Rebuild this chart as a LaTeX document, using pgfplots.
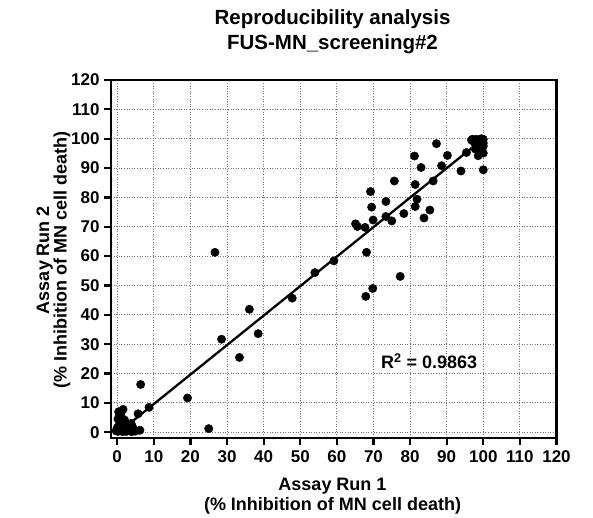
\documentclass[border=0pt]{standalone}
\usepackage{fontspec}
\setmainfont{Liberation Sans}
\usepackage{pgfplots}
\pgfplotsset{compat=1.18}

\begin{document}
\begin{tikzpicture}[x=1pt,y=1pt]
\path (0,0) rectangle (593,516);
\begin{axis}[
  at={(111pt,78.3pt)}, anchor=south west,
  scale only axis, width=445.5pt, height=357.7pt,
  xmin=-1.7, xmax=120, ymin=-1.84, ymax=120,
  xtick={0,10,...,120}, ytick={0,10,...,120},
  xtick pos=bottom, ytick pos=left,
  tick align=outside, major tick length=7pt,
  tick style={black, line width=2.2pt},
  axis line style={black, line width=2.2pt},
  grid=major,
  major grid style={black!55, line width=1pt, dash pattern=on 1pt off 1.6pt},
  /pgf/number format/assume math mode=true,
  ticklabel style={font=\bfseries\fontsize{17}{17}\selectfont},
  xticklabel style={yshift=-2pt},
  yticklabel style={xshift=-1pt},
  clip=false,
]
  % regression line
  \addplot[black, line width=2.3pt, no marks] coordinates {(3.5,3.1) (96.8,96.8)};

  % compounds
  \addplot[only marks, mark=*, mark size=4.2pt, black] coordinates {
    (0.2,0.3) (0.5,1.0) (1.0,0.5) (1.5,0.2) (2.0,0.8) (2.5,0.3) (3.0,1.2)
    (3.5,0.5) (4.0,0.2) (4.5,0.9) (5.0,0.4) (6.2,0.7) (0.3,2.0) (0.8,3.0)
    (1.2,2.2) (1.8,3.5) (2.3,2.0) (2.8,2.8) (3.3,1.8) (0.2,4.5) (0.6,5.5)
    (1.2,5.0) (0.4,7.0) (1.6,7.8) (1.0,6.5) (2.0,4.2) (3.8,3.0) (0.0,1.5)
    (-0.3,0.5) (1.5,1.5) (2.2,1.2) (4.2,1.8) (5.7,6.3) (8.7,8.5) (6.4,16.3)
    (19.2,11.7) (25.0,1.25) (26.7,61.3) (28.5,31.7) (33.4,25.5) (36.1,41.9)
    (38.5,33.6) (47.8,45.7) (54.0,54.4) (59.2,58.4)
    (65.1,71.0) (65.6,70.1) (67.7,69.8) (68.1,61.3) (67.9,46.3) (69.8,49.0)
    (69.2,82.0) (69.5,76.7) (69.9,72.3) (73.4,78.6) (73.4,73.5) (75.0,72.0)
    (75.7,85.6) (77.3,53.1) (78.3,74.5) (81.2,94.1) (81.4,84.4) (81.9,79.4)
    (81.4,76.9) (83.0,90.2) (83.8,73.0) (85.4,75.7) (86.3,85.6) (87.2,98.3)
    (88.6,90.8) (90.2,94.3) (93.9,89.0) (95.4,95.3) (100.0,89.4)
    (97.0,99.8) (98.0,99.8) (99.0,99.8) (100.0,99.8) (97.5,98.8) (98.5,99.0)
    (99.5,99.0) (100.0,98.5) (98.0,97.5) (99.0,97.0) (100.0,97.5) (98.6,94.2)
    (100.0,95.1) (99.2,96.0) (97.8,96.5) (99.5,100.0) (96.8,99.5)
  };

  \node[font=\bfseries\fontsize{18}{18}\selectfont, anchor=base]
    at (axis cs:85.2,21.8) {R\textsuperscript{2} = 0.9863};
\end{axis}

% title
\node[anchor=base, font=\bfseries\fontsize{20.5}{20.5}\selectfont] at (332.5,491) {Reproducibility analysis};
\node[anchor=base, font=\bfseries\fontsize{20.5}{20.5}\selectfont] at (332.5,466) {FUS-MN\_screening\#2};

% x label
\node[anchor=base, font=\bfseries\fontsize{18}{18}\selectfont] at (332.5,25) {Assay Run 1};
\node[anchor=base, font=\bfseries\fontsize{18}{18}\selectfont] at (332.5,5.3) {(\% Inhibition of MN cell death)};

% y label
\node[anchor=base, rotate=90, font=\bfseries\fontsize{18}{18}\selectfont] at (49,256) {Assay Run 2};
\node[anchor=base, rotate=90, font=\bfseries\fontsize{18}{18}\selectfont] at (66.5,256) {(\% Inhibition of MN cell death)};
\end{tikzpicture}
\end{document}
